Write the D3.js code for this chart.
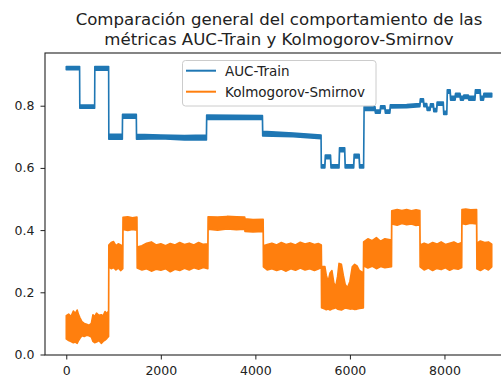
<!DOCTYPE html>
<html>
<head>
<meta charset="utf-8">
<script src="https://cdn.jsdelivr.net/npm/d3@7"></script>
<style>
	body { margin: 0; background: #fff; }
	text { font-family: "DejaVu Sans", sans-serif; fill: #222; }
</style>
</head>
<body>
<svg id="chart" width="501" height="378"></svg>
<script>
var titleLines = ["Comparación general del comportamiento de las", "métricas AUC-Train y Kolmogorov-Smirnov"];
var seriesNames = ["AUC-Train", "Kolmogorov-Smirnov"];
var seriesColors = ["#1f77b4", "#ff7f0e"];
var xTicks = [0, 2000, 4000, 6000, 8000];
var yTicks = [0.0, 0.2, 0.4, 0.6, 0.8];

// AUC-Train: iteration, lower and upper edge of the noisy band
var aucX = [0, 282, 286, 600, 604, 896, 900, 1186, 1190, 1482,
	1486, 2000, 2500, 2965, 2970, 4150, 4155, 4800, 5390, 5395,
	5470, 5480, 5590, 5600, 5770, 5780, 5890, 5900, 6080, 6090,
	6195, 6205, 6290, 6300, 6530, 6540, 6640, 6650, 6740, 6750,
	6845, 6855, 7200, 7480, 7490, 7555, 7565, 7625, 7635, 7695,
	7705, 7765, 7775, 7835, 7845, 7975, 7985, 8050, 8060, 8120,
	8130, 8225, 8235, 8330, 8340, 8400, 8410, 8505, 8515, 8645,
	8655, 8755, 8765, 8825, 8835, 9000];
var aucLow = [.916, .916, .792, .792, .914, .914, .692, .692, .760, .760,
	.692, .694, .690, .690, .756, .756, .703, .700, .694, .600,
	.600, .630, .630, .600, .600, .652, .652, .600, .600, .632,
	.632, .600, .600, .785, .785, .776, .776, .790, .790, .776,
	.776, .793, .794, .797, .812, .812, .797, .797, .785, .785,
	.796, .796, .781, .781, .802, .802, .772, .772, .840, .840,
	.818, .818, .828, .828, .818, .818, .823, .823, .818, .818,
	.840, .840, .818, .818, .828, .828];
var aucHigh = [.926, .926, .802, .802, .926, .926, .708, .708, .772, .772,
	.708, .706, .704, .706, .770, .768, .718, .712, .706, .610,
	.610, .641, .641, .610, .610, .665, .665, .610, .610, .644,
	.644, .610, .610, .797, .797, .786, .786, .800, .800, .786,
	.786, .803, .804, .807, .822, .822, .807, .807, .795, .795,
	.806, .806, .791, .791, .812, .812, .782, .782, .851, .851,
	.830, .830, .840, .840, .830, .830, .834, .834, .830, .830,
	.851, .851, .830, .830, .840, .840];

// Kolmogorov-Smirnov: iteration, lower and upper edge of the noisy band (one row per plateau)
var ksX = [
	0, 50, 100, 150, 190, 230, 260, 290, 330, 380, 430, 480, 530, 565, 600, 640, 690, 740, 780, 820, 860, 895,
	900, 950, 1000, 1050, 1100, 1150, 1195,
	1200, 1300, 1400, 1495,
	1500, 1600, 1700, 1800, 1900, 2000, 2100, 2200, 2300, 2400, 2500, 2600, 2700, 2800, 2900, 2995,
	3000, 3200, 3400, 3600, 3775, 3780, 3950, 4165,
	4170, 4250, 4350, 4450, 4550, 4650, 4750, 4850, 4950, 5050, 5150, 5250, 5330, 5395,
	5400, 5470, 5500, 5540, 5580, 5620, 5660, 5700, 5740, 5770, 5820, 5860, 5900, 5950, 6000, 6050, 6100, 6150, 6200, 6285,
	6290, 6380, 6470, 6560, 6650, 6740, 6880,
	6885, 7000, 7100, 7200, 7300, 7400, 7480,
	7485, 7570, 7660, 7750, 7840, 7930, 8020, 8110, 8200, 8290, 8365,
	8370, 8450, 8550, 8680,
	8686, 8760, 8850, 8930, 9000];
var ksLow = [
	.050, .045, .042, .038, .040, .036, .045, .052, .060, .058, .062, .060, .056, .042, .038, .040, .045, .036, .042, .046, .052, .058,
	.282, .276, .280, .272, .278, .270, .276,
	.402, .399, .402, .400,
	.278, .272, .276, .268, .274, .271, .276, .266, .274, .270, .277, .272, .279, .274, .280, .276,
	.403, .400, .404, .401, .403, .396, .394, .396,
	.282, .272, .276, .270, .275, .268, .276, .271, .278, .272, .276, .270, .275, .280,
	.150, .146, .144, .146, .143, .146, .148, .150, .146, .145, .143, .146, .150, .148, .146, .147, .145, .146, .148, .150,
	.285, .278, .284, .276, .283, .279, .282,
	.420, .416, .421, .417, .420, .415, .418,
	.282, .272, .278, .270, .277, .273, .279, .271, .277, .274, .280,
	.421, .418, .422, .420,
	.276, .270, .278, .272, .282];
var ksHigh = [
	.125, .130, .122, .140, .132, .143, .128, .118, .106, .100, .097, .094, .100, .128, .122, .133, .126, .128, .124, .138, .132, .140,
	.352, .360, .363, .350, .356, .352, .348,
	.441, .443, .440, .442,
	.346, .350, .358, .362, .352, .356, .350, .357, .352, .360, .354, .358, .352, .360, .354, .356,
	.443, .442, .444, .443, .442, .436, .434, .435,
	.350, .354, .358, .352, .360, .354, .358, .352, .361, .355, .359, .354, .357, .352,
	.283, .283, .255, .235, .262, .270, .230, .218, .252, .293, .290, .255, .225, .215, .235, .282, .290, .285, .270, .262,
	.362, .372, .366, .376, .364, .372, .368,
	.462, .466, .463, .466, .462, .465, .463,
	.352, .358, .353, .360, .355, .362, .354, .358, .362, .355, .360,
	.466, .468, .465, .466,
	.358, .365, .360, .362, .355];

(function () {
	var svg = d3.select("#chart");
	var plotLeft = 45, plotRight = 513, plotTop = 53, plotBottom = 355;

	var x = d3.scaleLinear().domain([-450, 9450]).range([plotLeft, plotRight]);
	var y = d3.scaleLinear().domain([-0.0016, 0.9695]).range([plotBottom, plotTop]);

	svg.append("rect")
		.attr("width", 501)
		.attr("height", 378)
		.attr("fill", "#fff");

	function bandRows (xs, lows, highs) {
		return xs.map(function (d, i) {
			return { x: d, low: lows[i], high: highs[i] };
		});
	}

	var band = d3.area()
		.x(function (d) { return x(d.x); })
		.y0(function (d) { return y(d.low); })
		.y1(function (d) { return y(d.high); });

	var series = [bandRows(aucX, aucLow, aucHigh), bandRows(ksX, ksLow, ksHigh)];

	svg.selectAll("path.band")
		.data(series)
		.enter()
		.append("path")
		.attr("class", "band")
		.attr("d", band)
		.attr("fill", function (d, i) { return seriesColors[i]; })
		.attr("stroke", function (d, i) { return seriesColors[i]; })
		.attr("stroke-width", 1.6)
		.attr("stroke-linejoin", "round");

	var xAxis = svg.append("g")
		.attr("transform", "translate(0," + plotBottom + ")")
		.call(d3.axisBottom(x).tickValues(xTicks).tickFormat(d3.format("d")).tickSize(4.5).tickPadding(7));

	var yAxis = svg.append("g")
		.attr("transform", "translate(" + plotLeft + ",0)")
		.call(d3.axisLeft(y).tickValues(yTicks).tickFormat(d3.format(".1f")).tickSize(4.5).tickPadding(6));

	[xAxis, yAxis].forEach(function (g) {
		g.select(".domain").remove();
		g.selectAll("line").attr("stroke", "#222").attr("stroke-width", 1);
		g.selectAll("text")
			.style("font-family", "DejaVu Sans")
			.style("font-size", "12.5px")
			.attr("fill", "#222");
	});

	svg.append("rect")
		.attr("x", plotLeft)
		.attr("y", plotTop)
		.attr("width", plotRight - plotLeft)
		.attr("height", plotBottom - plotTop)
		.attr("fill", "none")
		.attr("stroke", "#222")
		.attr("stroke-width", 1.1);

	svg.selectAll("text.title")
		.data(titleLines)
		.enter()
		.append("text")
		.attr("class", "title")
		.attr("x", (plotLeft + plotRight) / 2)
		.attr("y", function (d, i) { return 25 + i * 20; })
		.attr("text-anchor", "middle")
		.style("font-size", "16.6px")
		.text(function (d) { return d; });

	var legend = svg.append("g");

	legend.append("rect")
		.attr("x", 182.5)
		.attr("y", 60.5)
		.attr("width", 193.5)
		.attr("height", 45.5)
		.attr("rx", 3)
		.attr("fill", "#fff")
		.attr("fill-opacity", 0.8)
		.attr("stroke", "#ccc");

	var items = legend.selectAll("g.item")
		.data(seriesNames)
		.enter()
		.append("g")
		.attr("class", "item")
		.attr("transform", function (d, i) { return "translate(0," + (70.7 + i * 21) + ")"; });

	items.append("line")
		.attr("x1", 186)
		.attr("x2", 216)
		.attr("stroke", function (d, i) { return seriesColors[i]; })
		.attr("stroke-width", 2);

	items.append("text")
		.attr("x", 225)
		.attr("dy", "0.36em")
		.style("font-size", "13.5px")
		.text(function (d) { return d; });
})();
</script>
</body>
</html>
